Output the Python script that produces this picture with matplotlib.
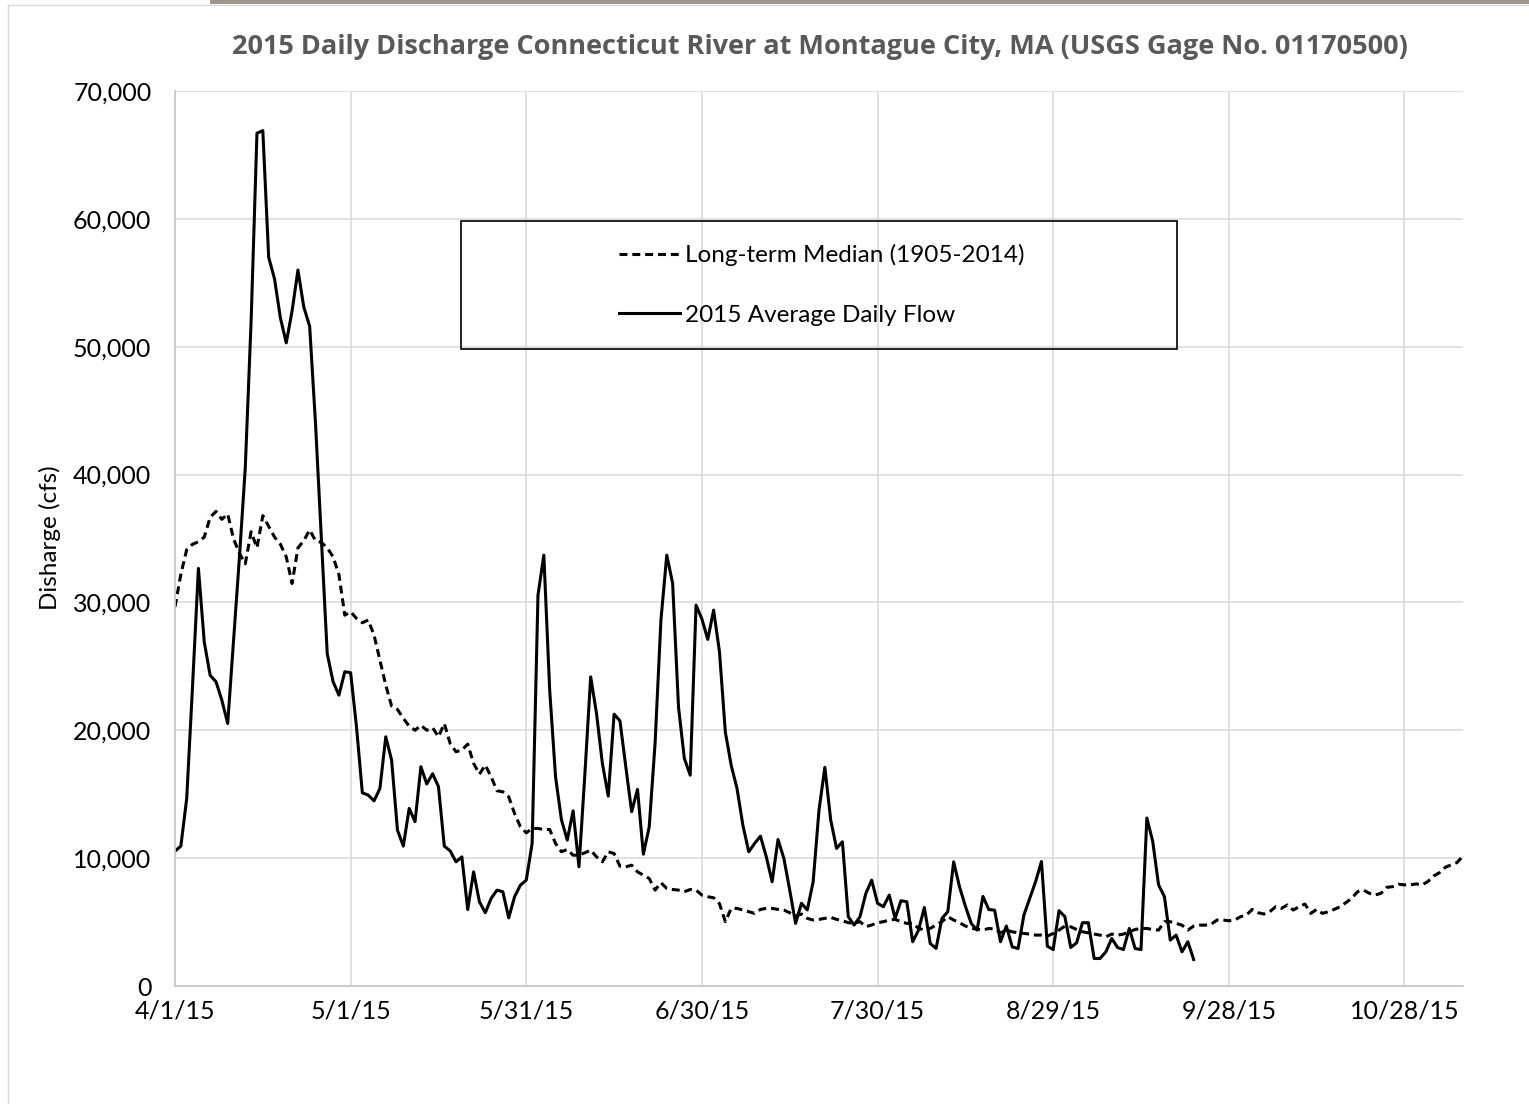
import matplotlib
matplotlib.use("Agg")
import matplotlib.pyplot as plt
from matplotlib.patches import Rectangle
from matplotlib.lines import Line2D
import pandas as pd

# daily values, starting 4/1/15
flow_2015 = [
    10550, 10940, 14670, 23500, 32660, 26900, 24300, 23800, 22360, 20530,
    27000, 33500, 40500, 52000, 66700, 66900, 57000, 55300, 52260, 50300,
    52800, 56000, 53100, 51600, 44000, 35000, 26000, 23800, 22750, 24580,
    24500, 20270, 15110, 14930, 14480, 15450, 19490, 17660, 12190, 10940,
    13890, 12850, 17150, 15800, 16600, 15600, 10940, 10570, 9710, 10100,
    5980, 8930, 6590, 5730, 6850, 7500, 7370, 5330, 6980, 7890,
    8280, 11150, 30570, 33700, 23140, 16360, 13020, 11410, 13700, 9320,
    16500, 24180, 21310, 17400, 14850, 21260, 20740, 17150, 13630, 15380,
    10310, 12450, 18970, 28620, 33700, 31490, 21830, 17800, 16490, 29790,
    28700, 27110, 29400, 26140, 19870, 17270, 15440, 12570, 10500, 11150,
    11720, 10100, 8150, 11460, 9980, 7500, 4900, 6470, 5950, 8150,
    13760, 17100, 12980, 10760, 11280, 5420, 4770, 5420, 7240, 8280,
    6470, 6200, 7110, 5290, 6670, 6590, 3460, 4370, 6140, 3330,
    2940, 5290, 5810, 9710, 7760, 6250, 4900, 4370, 7010, 5980,
    5930, 3460, 4690, 3060, 2930, 5550, 6860, 8170, 9740, 3110,
    2850, 5890, 5420, 3010, 3380, 4950, 4950, 2150, 2150, 2670,
    3720, 3010, 2850, 4500, 2930, 2850, 13140, 11310, 7910, 6990,
    3590, 3980, 2670, 3460, 2070,
]

median_1905_2014 = [
    29660, 32200, 34130, 34550, 34750, 35110, 36650, 37120, 36500, 36920,
    34970, 33850, 33020, 35530, 34270, 36790, 35950, 35110, 34550, 33570,
    31480, 34270, 34830, 35670, 34830, 34690, 34270, 33570, 32170, 29000,
    29270, 28750, 28410, 28620, 27440, 25490, 23530, 21890, 21630, 20930,
    20330, 20000, 20400, 20000, 20200, 19490, 20530, 18970, 18320, 18450,
    18920, 17410, 16570, 17280, 16360, 15270, 15190, 14800, 13490, 12450,
    11980, 12320, 12320, 12240, 12240, 11150, 10500, 10680, 10230, 10230,
    10420, 10630, 10100, 9710, 10500, 10360, 9370, 9320, 9450, 8930,
    8670, 8410, 7500, 8080, 7630, 7550, 7500, 7370, 7550, 7500,
    7110, 6980, 6900, 6440, 5030, 6070, 6070, 5940, 5810, 5680,
    5990, 6070, 6070, 5990, 5940, 5730, 5480, 5630, 5290, 5160,
    5210, 5290, 5370, 5210, 5110, 4950, 4900, 5030, 4640, 4770,
    4950, 5030, 5160, 5210, 5030, 4900, 4900, 4510, 4380, 4510,
    4770, 5030, 5420, 5160, 4950, 4690, 4510, 4450, 4380, 4500,
    4450, 4160, 4370, 4240, 4160, 4110, 4060, 3980, 3980, 3900,
    4110, 4370, 4690, 4630, 4420, 4240, 4160, 4060, 3980, 3850,
    4060, 3980, 4060, 4240, 4420, 4500, 4500, 4420, 4370, 5030,
    5030, 4900, 4760, 4370, 4690, 4760, 4760, 4840, 5160, 5160,
    5100, 5160, 5420, 5550, 5990, 5730, 5630, 5810, 6200, 6070,
    6340, 5940, 6200, 6410, 5680, 5990, 5680, 5810, 5990, 6200,
    6520, 6860, 7380, 7510, 7250, 7120, 7250, 7720, 7770, 7960,
    7910, 7910, 7980, 7910, 8170, 8610, 8870, 9290, 9480, 9660,
    10180,
]

tick_labels = ["4/1/15", "5/1/15", "5/31/15", "6/30/15",
               "7/30/15", "8/29/15", "9/28/15", "10/28/15"]
y_ticks = [0, 10000, 20000, 30000, 40000, 50000, 60000, 70000]

flow_dates = pd.date_range("2015-04-01", periods=len(flow_2015), freq="D")
median_dates = pd.date_range("2015-04-01", periods=len(median_1905_2014), freq="D")
tick_dates = pd.date_range("2015-04-01", periods=len(tick_labels), freq="30D")

plt.rcParams['font.family'] = ['Lato', 'DejaVu Sans']

W, H = 1529, 1104
fig = plt.figure(figsize=(W / 100, H / 100), dpi=100)
ax = fig.add_axes([175 / W, 1 - 986 / H, (1463 - 175) / W, (986 - 91) / H])

line_med, = ax.plot(median_dates, median_1905_2014, color='black', lw=2.2,
                    linestyle=(0, (2.6, 1.6)), dash_capstyle='butt',
                    label='Long-term Median (1905-2014)')
line_flow, = ax.plot(flow_dates, flow_2015, color='black', lw=2.2,
                     label='2015 Average Daily Flow')

ax.set_xlim(median_dates[0], median_dates[-1])
ax.set_ylim(0, 70000)
ax.set_xticks(tick_dates)
ax.set_xticklabels(tick_labels)
ax.set_yticks(y_ticks)
ax.set_yticklabels([f"{v:,}" for v in y_ticks])
ax.tick_params(length=0, labelsize=18)
ax.tick_params(axis='y', pad=17)
ax.tick_params(axis='x', pad=10)
ax.grid(True, color='#d9d9d9', lw=1.1)
ax.set_axisbelow(True)
for s in ['top', 'right']:
    ax.spines[s].set_visible(False)
for s in ['left', 'bottom']:
    ax.spines[s].set_color('#c8c8c8')
    ax.spines[s].set_linewidth(1.3)

# legend box (transparent, black edge) with centred entries
x0 = (461 - 175) / (1463 - 175)
x1 = (1177 - 175) / (1463 - 175)
y0 = (986 - 349) / (986 - 91)
y1 = (986 - 221) / (986 - 91)
ax.add_patch(Rectangle((x0, y0), x1 - x0, y1 - y0, transform=ax.transAxes,
                       fill=False, edgecolor='black', lw=1.2, zorder=5))
ax.legend(handles=[line_med, line_flow], loc='center',
          bbox_to_anchor=((x0 + x1) / 2 + 0.002, (y0 + y1) / 2),
          frameon=False, fontsize=17.5, handlelength=2.5, handletextpad=0.2,
          labelspacing=1.6)

fig.text(820 / W, 1 - 47 / H,
         "2015 Daily Discharge Connecticut River at Montague City, MA (USGS Gage No. 01170500)",
         ha='center', va='center', fontsize=19.5, fontweight='bold', color='#595959',
         family=['Open Sans', 'DejaVu Sans'])
fig.text(50 / W, 1 - 538 / H, "Disharge (cfs)", rotation=90,
         ha='center', va='center', fontsize=17.5)

# outer frame bits
fig.add_artist(Line2D([8 / W, 8 / W], [0, 1 - 5 / H], transform=fig.transFigure,
                      color='#d9d9d9', lw=1))
fig.add_artist(Line2D([8 / W, 1], [1 - 5 / H, 1 - 5 / H], transform=fig.transFigure,
                      color='#d9d9d9', lw=1))
fig.add_artist(Rectangle((210 / W, 1 - 4 / H), 1 - 210 / W, 4 / H,
                         transform=fig.transFigure, color='#9c978b', lw=0))

fig.savefig("out.png", dpi=100)
